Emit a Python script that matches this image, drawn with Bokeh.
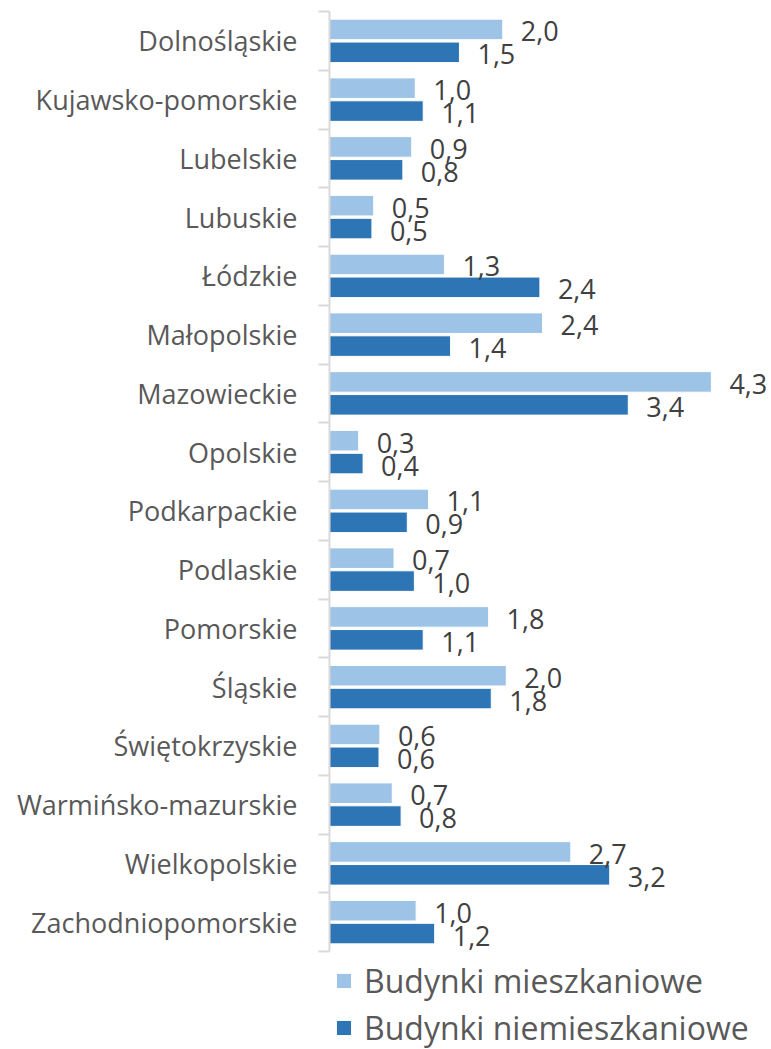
from bokeh.plotting import figure
from bokeh.models import (Range1d, LinearAxis, FixedTicker,
                          ColumnDataSource, Legend, LegendItem)
from bokeh.core.properties import value
from bokeh.embed import file_html
from bokeh.resources import INLINE

categories = ["Dolnośląskie", "Kujawsko-pomorskie", "Lubelskie", "Lubuskie", "Łódzkie",
              "Małopolskie", "Mazowieckie", "Opolskie", "Podkarpackie", "Podlaskie",
              "Pomorskie", "Śląskie", "Świętokrzyskie", "Warmińsko-mazurskie",
              "Wielkopolskie", "Zachodniopomorskie"]
mieszkaniowe = [1.96, 0.97, 0.93, 0.50, 1.30, 2.41, 4.32, 0.33, 1.12, 0.73,
                1.80, 2.00, 0.57, 0.71, 2.73, 0.98]
niemieszkaniowe = [1.47, 1.06, 0.83, 0.48, 2.38, 1.37, 3.38, 0.38, 0.88, 0.96,
                   1.06, 1.83, 0.56, 0.81, 3.17, 1.19]
series_names = ["Budynki mieszkaniowe", "Budynki niemieszkaniowe"]
colors = ["#9DC3E6", "#2E75B6"]

FONT = "Open Sans"
N = len(categories)
centers = [i + 0.5 for i in range(N)]
boundaries = list(range(N + 1))
OFF = 0.195
LEGEND_SPACE = 1.668  # room below the categories for the legend, in category units

def fmt(v):
    return f"{v:.1f}".replace(".", ",")

src = ColumnDataSource(dict(
    pm=[c - OFF for c in centers],
    pn=[c + OFF for c in centers],
    m=mieszkaniowe,
    n=niemieszkaniowe,
    m_lab=[fmt(v) for v in mieszkaniowe],
    n_lab=[fmt(v) for v in niemieszkaniowe],
))

p = figure(width=771, height=1049, output_backend="svg", toolbar_location=None,
           y_range=Range1d(N + LEGEND_SPACE, 0), x_range=Range1d(0, 5.0),
           y_axis_location=None, x_axis_location=None,
           min_border_left=329, min_border_right=0, min_border_top=11, min_border_bottom=0)
p.outline_line_color = None
p.grid.visible = False
p.background_fill_color = None
p.border_fill_color = "white"

cat_axis = LinearAxis(ticker=FixedTicker(ticks=centers, minor_ticks=boundaries), bounds=(0, N),
                      major_label_overrides={c: name for c, name in zip(centers, categories)},
                      axis_line_color="#D9D9D9", axis_line_width=2,
                      major_tick_line_color=None, major_tick_out=0, major_tick_in=0,
                      minor_tick_line_color="#D9D9D9", minor_tick_line_width=2,
                      minor_tick_out=11, minor_tick_in=0,
                      major_label_text_font_size="27px", major_label_text_color="#595959",
                      major_label_text_font=FONT, major_label_standoff=21)
p.add_layout(cat_axis, "left")

r1 = p.hbar(y="pm", right="m", height=0.35, left=0,
            source=src, fill_color=colors[0], line_color="white", line_width=1)
r2 = p.hbar(y="pn", right="n", height=0.35, left=0,
            source=src, fill_color=colors[1], line_color="white", line_width=1)

p.text(x="m", y="pm", text="m_lab", source=src,
       x_offset=18, y_offset=2, text_baseline="middle", text_align="left",
       text_font=value(FONT), text_font_size="27px", text_color="#404040")
p.text(x="n", y="pn", text="n_lab", source=src,
       x_offset=18, y_offset=2, text_baseline="middle", text_align="left",
       text_font=value(FONT), text_font_size="27px", text_color="#404040")

legend = Legend(items=[LegendItem(label=series_names[0], renderers=[r1]),
                       LegendItem(label=series_names[1], renderers=[r2])],
                location=(5, 0), orientation="vertical",
                label_text_font=FONT, label_text_font_size="32px", label_text_color="#595959",
                glyph_width=19, glyph_height=19, label_standoff=11, spacing=4,
                label_height=19, padding=0, margin=0, border_line_color=None,
                background_fill_alpha=0)
p.add_layout(legend, "center")

open("out.html", "w").write(file_html(p, INLINE))
